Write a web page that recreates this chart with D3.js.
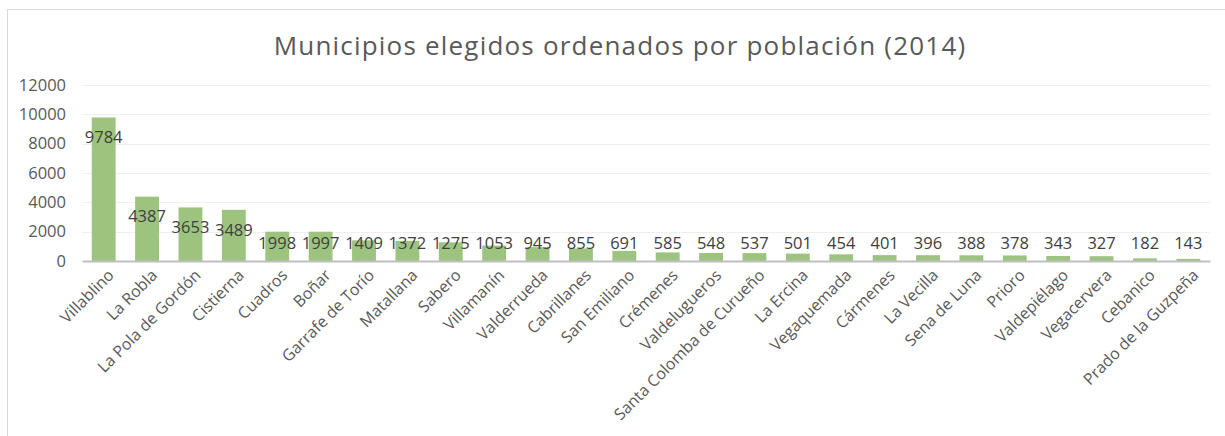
<!DOCTYPE html>
<html>
<head>
<meta charset="utf-8">
<script src="https://cdn.jsdelivr.net/npm/d3@7"></script>
<style>
  body { margin: 0; background: white; }
</style>
</head>
<body>
<div id="chart"></div>
<script>
    // Data
    var municipios = ["Villablino", "La Robla", "La Pola de Gordón", "Cistierna", "Cuadros", "Boñar",
      "Garrafe de Torío", "Matallana", "Sabero", "Villamanín", "Valderrueda", "Cabrillanes",
      "San Emiliano", "Crémenes", "Valdelugueros", "Santa Colomba de Curueño", "La Ercina",
      "Vegaquemada", "Cármenes", "La Vecilla", "Sena de Luna", "Prioro", "Valdepiélago",
      "Vegacervera", "Cebanico", "Prado de la Guzpeña"];
    var poblacion = [9784, 4387, 3653, 3489, 1998, 1997, 1409, 1372, 1275, 1053, 945, 855,
      691, 585, 548, 537, 501, 454, 401, 396, 388, 378, 343, 327, 182, 143];
    var yTicks = [0, 2000, 4000, 6000, 8000, 10000, 12000];
    var titulo = "Municipios elegidos ordenados por población (2014)";

    //Color Palette
    var barColor = "#9DC47F";
    var gridColor = "#EFEFEF";
    var axisColor = "#BFBFBF";
    var tickColor = "#595959";
    var labelColor = "#404040";

    const W = 1225, H = 436;
    const margin = { top: 85, right: 15, bottom: 175, left: 82 },
      width = W - margin.left - margin.right,
      height = H - margin.top - margin.bottom;

    const svg = d3.select("#chart")
      .append("svg")
      .attr("width", W)
      .attr("height", H)
      .style("font-family", "Open Sans");

    // chart frame (right/bottom edges fall outside the picture)
    svg.append("rect")
      .attr("x", 7.5).attr("y", 9.5)
      .attr("width", W + 20).attr("height", H + 20)
      .attr("fill", "white")
      .attr("stroke", "#D9D9D9");

    // title
    svg.append("text")
      .attr("x", 620)
      .attr("y", 55)
      .attr("text-anchor", "middle")
      .style("font-size", "26px")
      .style("letter-spacing", "1.2px")
      .style("fill", tickColor)
      .text(titulo);

    const g = svg.append("g")
      .attr("transform", `translate(${margin.left},${margin.top})`);

    // scales
    const x = d3.scaleBand()
      .domain(municipios)
      .range([0, width])
      .paddingInner(0.45)
      .paddingOuter(0.225);

    const y = d3.scaleLinear()
      .domain([0, 12000])
      .range([height, 0]);

    // gridlines
    g.selectAll(".grid")
      .data(yTicks.filter(d => d > 0))
      .enter()
      .append("line")
      .attr("x1", 0).attr("x2", width)
      .attr("y1", d => Math.round(y(d)) + 0.5)
      .attr("y2", d => Math.round(y(d)) + 0.5)
      .attr("stroke", gridColor)
      .attr("stroke-width", 1);

    // Y axis
    g.append("g")
      .call(d3.axisLeft(y).tickValues(yTicks).tickFormat(d3.format("d")).tickSize(0).tickPadding(16))
      .call(a => a.select(".domain").remove())
      .selectAll("text")
      .style("font-family", "Open Sans")
      .style("font-size", "16.5px")
      .style("fill", tickColor);

    // bars
    g.selectAll(".bar")
      .data(poblacion)
      .enter()
      .append("rect")
      .attr("x", (d, i) => x(municipios[i]))
      .attr("width", x.bandwidth())
      .attr("y", d => y(d))
      .attr("height", d => y(0) - y(d))
      .attr("fill", barColor);

    // X axis
    const xAxis = g.append("g")
      .attr("transform", `translate(0, ${height})`)
      .call(d3.axisBottom(x).tickSize(0).tickPadding(0));
    xAxis.select(".domain")
      .attr("stroke", axisColor)
      .attr("stroke-width", 2);
    xAxis.selectAll("text")
      .attr("transform", "translate(5,9) rotate(-45)")
      .attr("text-anchor", "end")
      .attr("dy", "0.55em")
      .style("font-family", "Open Sans")
      .style("font-size", "16px")
      .style("fill", tickColor);

    // value labels (inside end, pushed up for short bars)
    g.selectAll(".val")
      .data(poblacion)
      .enter()
      .append("text")
      .attr("x", (d, i) => x(municipios[i]) + x.bandwidth() / 2)
      .attr("y", d => Math.min(y(d) + 20, y(0) - 18))
      .attr("dy", "0.35em")
      .attr("text-anchor", "middle")
      .style("font-size", "16.5px")
      .style("fill", labelColor)
      .text(d => d);
</script>
</body>
</html>
